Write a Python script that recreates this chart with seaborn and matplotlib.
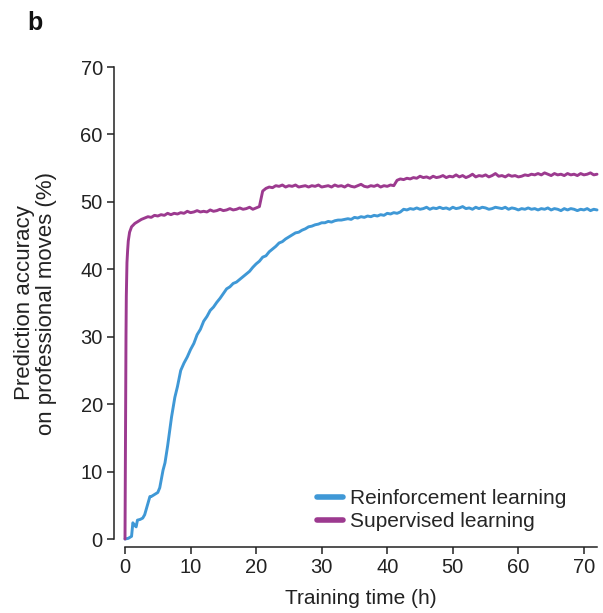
import numpy as np
import pandas as pd
import matplotlib
matplotlib.use('Agg')
import matplotlib.pyplot as plt
import seaborn as sns

# values (training hours vs. accuracy %)
sl_t_early = [0.0, 0.05, 0.1, 0.15, 0.2, 0.3, 0.4, 0.5, 0.7, 1.0, 1.5, 2.0, 2.5]
sl_y_early = [0.0, 10.0, 22.0, 30.0, 36.0, 41.0, 42.8, 44.2, 45.5, 46.3, 46.8, 47.1, 47.4]
sl_t_late = np.arange(3.0, 72.01, 0.5)
sl_y_late = [
    47.6, 47.8, 47.7, 48.0, 47.9, 48.1, 48.0, 48.3, 48.1, 48.3,
    48.2, 48.4, 48.3, 48.6, 48.4, 48.5, 48.7, 48.5, 48.6, 48.5,
    48.8, 48.6, 48.7, 48.9, 48.7, 48.8, 49.0, 48.8, 48.9, 49.1,
    48.9, 49.0, 49.2, 48.9, 49.1, 49.3, 51.6, 52.0, 52.2, 52.1,
    52.4, 52.3, 52.5, 52.2, 52.4, 52.3, 52.5, 52.2, 52.3, 52.4,
    52.2, 52.4, 52.3, 52.5, 52.2, 52.3, 52.4, 52.2, 52.5, 52.3,
    52.4, 52.2, 52.5, 52.3, 52.2, 52.4, 52.6, 52.3, 52.2, 52.4,
    52.3, 52.5, 52.2, 52.4, 52.3, 52.5, 52.4, 53.2, 53.4, 53.3,
    53.5, 53.4, 53.6, 53.5, 53.8, 53.6, 53.7, 53.5, 53.8, 53.6,
    53.7, 53.9, 53.6, 53.8, 53.7, 54.0, 53.7, 53.9, 53.6, 53.8,
    54.1, 53.7, 53.9, 53.8, 54.0, 53.7, 53.9, 54.2, 53.8, 53.9,
    53.7, 54.0, 53.8, 53.9, 53.7, 53.8, 54.0, 53.9, 54.1, 54.0,
    54.2, 54.0, 54.3, 54.1, 53.9, 54.2, 54.0, 54.1, 53.9, 54.2,
    54.0, 54.1, 53.9, 54.2, 54.0, 54.1, 54.3, 54.0, 54.1,
]

rl_t_early = [0.0, 0.5, 1.0, 1.2, 1.5, 1.7, 1.9, 2.3, 2.7, 3.0, 3.5, 3.8, 4.0, 4.5,
              5.0, 5.3, 5.8, 6.1, 6.5, 7.1, 7.6, 8.0, 8.5]
rl_y_early = [0.0, 0.1, 0.4, 2.4, 2.0, 1.8, 2.8, 2.9, 3.1, 3.6, 5.3, 6.3, 6.3, 6.6,
              6.9, 7.6, 10.2, 11.3, 13.8, 18.1, 21.0, 22.6, 25.0]
rl_t_late = np.arange(9.0, 72.01, 0.5)
rl_y_late = [
    26.1, 27.0, 28.1, 29.0, 30.3, 31.1, 32.3, 33.0, 33.9, 34.4,
    35.1, 35.7, 36.4, 37.1, 37.4, 37.9, 38.1, 38.5, 38.9, 39.3,
    39.7, 40.3, 40.8, 41.2, 41.8, 42.0, 42.6, 43.0, 43.4, 43.9,
    44.1, 44.5, 44.8, 45.1, 45.4, 45.5, 45.8, 46.0, 46.3, 46.4,
    46.6, 46.7, 46.9, 46.9, 47.1, 47.0, 47.2, 47.3, 47.3, 47.4,
    47.5, 47.4, 47.7, 47.6, 47.8, 47.7, 47.9, 47.8, 48.0, 47.9,
    48.1, 48.0, 48.3, 48.2, 48.4, 48.3, 48.5, 48.9, 48.8, 49.0,
    48.9, 49.1, 48.9, 49.0, 49.2, 48.9, 49.1, 49.0, 49.2, 49.0,
    49.1, 48.9, 49.2, 49.0, 49.1, 49.3, 49.0, 49.1, 48.9, 49.2,
    49.0, 49.2, 49.1, 48.9, 49.0, 49.2, 49.1, 49.0, 49.2, 48.9,
    49.1, 49.0, 48.8, 49.0, 48.9, 49.1, 48.9, 49.0, 48.8, 49.0,
    48.9, 49.1, 48.8, 49.0, 48.9, 48.7, 49.0, 48.8, 49.0, 48.9,
    48.7, 48.9, 48.8, 49.0, 48.7, 48.9, 48.8,
]

labels = ['Reinforcement learning', 'Supervised learning']
colors = ['#3f98d6', '#9c3a8f']

df = pd.concat([
    pd.DataFrame({'time': list(rl_t_early) + list(rl_t_late),
                  'acc': rl_y_early + rl_y_late, 'method': labels[0]}),
    pd.DataFrame({'time': list(sl_t_early) + list(sl_t_late),
                  'acc': sl_y_early + sl_y_late, 'method': labels[1]}),
])

sns.set_style('ticks')
plt.rcParams['font.family'] = ['Liberation Sans', 'DejaVu Sans']

fig = plt.figure(figsize=(6.03, 6.13), dpi=100)
ax = fig.add_axes([0.2073, 0.1207, 0.7828, 0.770])
sns.lineplot(data=df, x='time', y='acc', hue='method', hue_order=labels,
             palette=colors, estimator=None, linewidth=2.1, ax=ax, clip_on=False)

ax.set_xlim(0, 72)
ax.set_ylim(0, 70)
ax.set_xticks(range(0, 71, 10))
ax.set_yticks(range(0, 71, 10))
ax.tick_params(labelsize=14.5, length=5, width=1.1, pad=3,
               color='#222222', labelcolor='#222222')
for s in ('top', 'right'):
    ax.spines[s].set_visible(False)
ax.spines['left'].set_position(('outward', 8))
ax.spines['bottom'].set_position(('outward', 6))
ax.spines['left'].set_bounds(0, 70)
ax.spines['bottom'].set_bounds(0, 72)
for s in ('left', 'bottom'):
    ax.spines[s].set_linewidth(1.1)
    ax.spines[s].set_color('#222222')

ax.set_xlabel('Training time (h)', fontsize=15, color='#222222', labelpad=8)
ax.set_ylabel('Prediction accuracy\non professional moves (%)', fontsize=16,
              color='#222222', labelpad=17, linespacing=1.05)

leg = ax.legend(loc='upper left', bbox_to_anchor=(0.39, 0.124), frameon=False,
                fontsize=15, handlelength=1.25, handletextpad=0.3, labelspacing=0.22,
                borderaxespad=0)
for ln in leg.get_lines():
    ln.set_linewidth(4)

fig.text(0.045, 0.962, 'b', fontsize=18, fontweight='bold', ha='left', va='center',
         color='#111111')

fig.savefig('out.png', dpi=100)
